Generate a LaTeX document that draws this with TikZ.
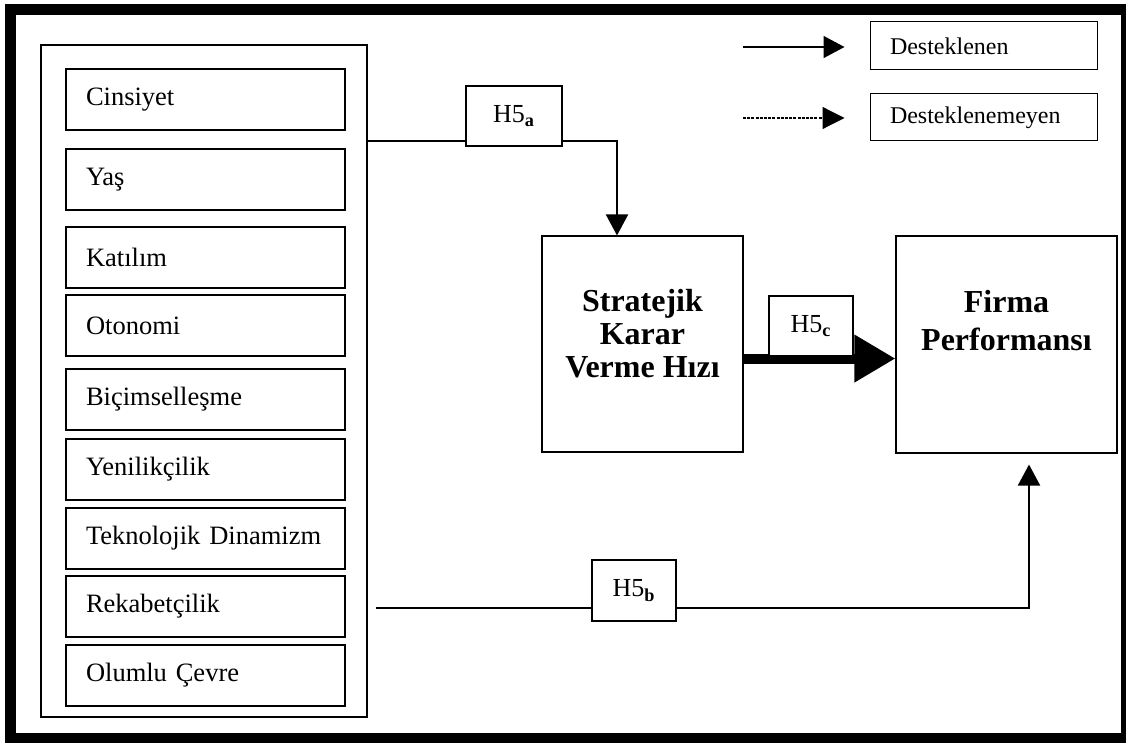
\documentclass[tikz,border=0pt]{standalone}
\usepackage{fontspec}
\setmainfont{Liberation Serif}
\usetikzlibrary{arrows.meta,backgrounds}

\begin{document}
\begin{tikzpicture}[x=0.5pt,y=-0.5pt,
		item/.style={draw, line width=0.55pt, minimum height=30.5pt, text width=119.5pt,
			inner xsep=10pt, inner ysep=0pt, align=left, font=\fontsize{13.25}{15}\selectfont},
		legbox/.style={draw, line width=0.5pt, text width=93.5pt, inner xsep=10pt, inner ysep=0pt,
			align=left, font=\fontsize{12}{14}\selectfont},
		hbox/.style={draw, fill=white, line width=0.55pt, minimum width=42pt, minimum height=30pt,
			inner sep=0pt, font=\fontsize{13}{15}\selectfont},
		bigbox/.style={draw, line width=0.55pt, inner sep=0pt},
		bigtext/.style={align=center, inner sep=0pt, font=\bfseries\fontsize{16}{16.5}\selectfont},
		conn/.style={line width=1pt},
		arr/.style={line width=1pt, -{Triangle[length=10.5pt,width=11pt]}},
		fatarr/.style={line width=5pt, -{Triangle[length=20.5pt,width=22.5pt]}},
		dotarr/.style={line width=0.6pt, dash pattern=on 1.5pt off 0.6pt, -{Triangle[length=11pt,width=11pt]}}]
		\useasboundingbox (0,0) rectangle (1126,743);
		\clip (0,0) rectangle (1126,743);
		% frame
		\draw [black, line width=5.5pt] (10.5,9.5) rectangle (1126,738);
		% variables
		\node [draw, line width=0.55pt, minimum width=163pt, minimum height=336pt, inner sep=0pt] (vars) at (204,381) {};
		\node [item] (cins) at (205.5,99.5) {Cinsiyet};
		\node [item] (yas) at (205.5,179.5) {Yaş};
		\node [item] (kat) at (205.5,257.5) {Katılım};
		\node [item] (oto) at (205.5,325.5) {Otonomi};
		\node [item] (bic) at (205.5,399.5) {Biçimselleşme};
		\node [item] (yen) at (205.5,469.5) {Yenilikçilik};
		\node [item] (tek) at (205.5,538.5) {Teknolojik Dinamizm};
		\node [item] (rek) at (205.5,606.5) {Rekabetçilik};
		\node [item] (olum) at (205.5,675.5) {Olumlu Çevre};
		% main boxes
		\node [bigbox, minimum width=100.5pt, minimum height=108pt] (strat) at (642.5,344) {};
		\node [bigtext] (stratlbl) at (642.5,334) {Stratejik\\Karar\\Verme Hızı};
		\node [bigbox, minimum width=110.5pt, minimum height=108.5pt] (firma) at (1006.5,344.5) {};
		\node [bigtext, font=\bfseries\fontsize{16}{19}\selectfont] (firmalbl) at (1006.5,321) {Firma\\Performansı};
		% hypotheses
		\node [hbox, minimum width=48pt] (ha) at (514,116) {H5\textsubscript{\textbf{a}}};
		\node [hbox] (hc) at (811,326) {H5\textsubscript{\textbf{c}}};
		\node [hbox, minimum height=30.5pt] (hb) at (634,590.5) {H5\textsubscript{\textbf{b}}};
		\coordinate (ha-in) at ([yshift=-12.5pt]ha.west);
		\coordinate (ha-out) at ([yshift=-12.5pt]ha.east);
		\coordinate (hb-in) at ([yshift=-8.75pt]hb.west);
		\coordinate (hb-out) at ([yshift=-8.75pt]hb.east);
		\coordinate (hc-foot) at ([yshift=-1pt]hc.south);
		\draw [conn] (vars.east |- ha-in) -- (ha-in);
		\draw [arr] (ha-out) -| ([xshift=-12.75pt]strat.north);
		\draw [conn] (vars.east |- hb-in) ++(4pt,0) -- (hb-in);
		\draw [arr, shorten >=5.5pt] (hb-out) -| ([xshift=11.25pt]firma.south);
		\begin{scope}[on background layer]
			\draw [fatarr] (strat.east |- hc-foot) -- (firma.west |- hc-foot);
		\end{scope}
		% legend
		\node [legbox, minimum height=24pt] (dst) at (983.5,46) {Desteklenen};
		\node [legbox, minimum height=23.5pt] (dstn) at (983.5,117.5) {Desteklenemeyen};
		\coordinate (lg1) at (743,47);
		\coordinate (lg2) at (743,118);
		\draw [arr, line width=0.75pt, shorten >=12.5pt] (lg1) -- (lg1 -| dst.west);
		\draw [dotarr, shorten >=12.5pt] (lg2) -- (lg2 -| dstn.west);
\end{tikzpicture}
\end{document}
